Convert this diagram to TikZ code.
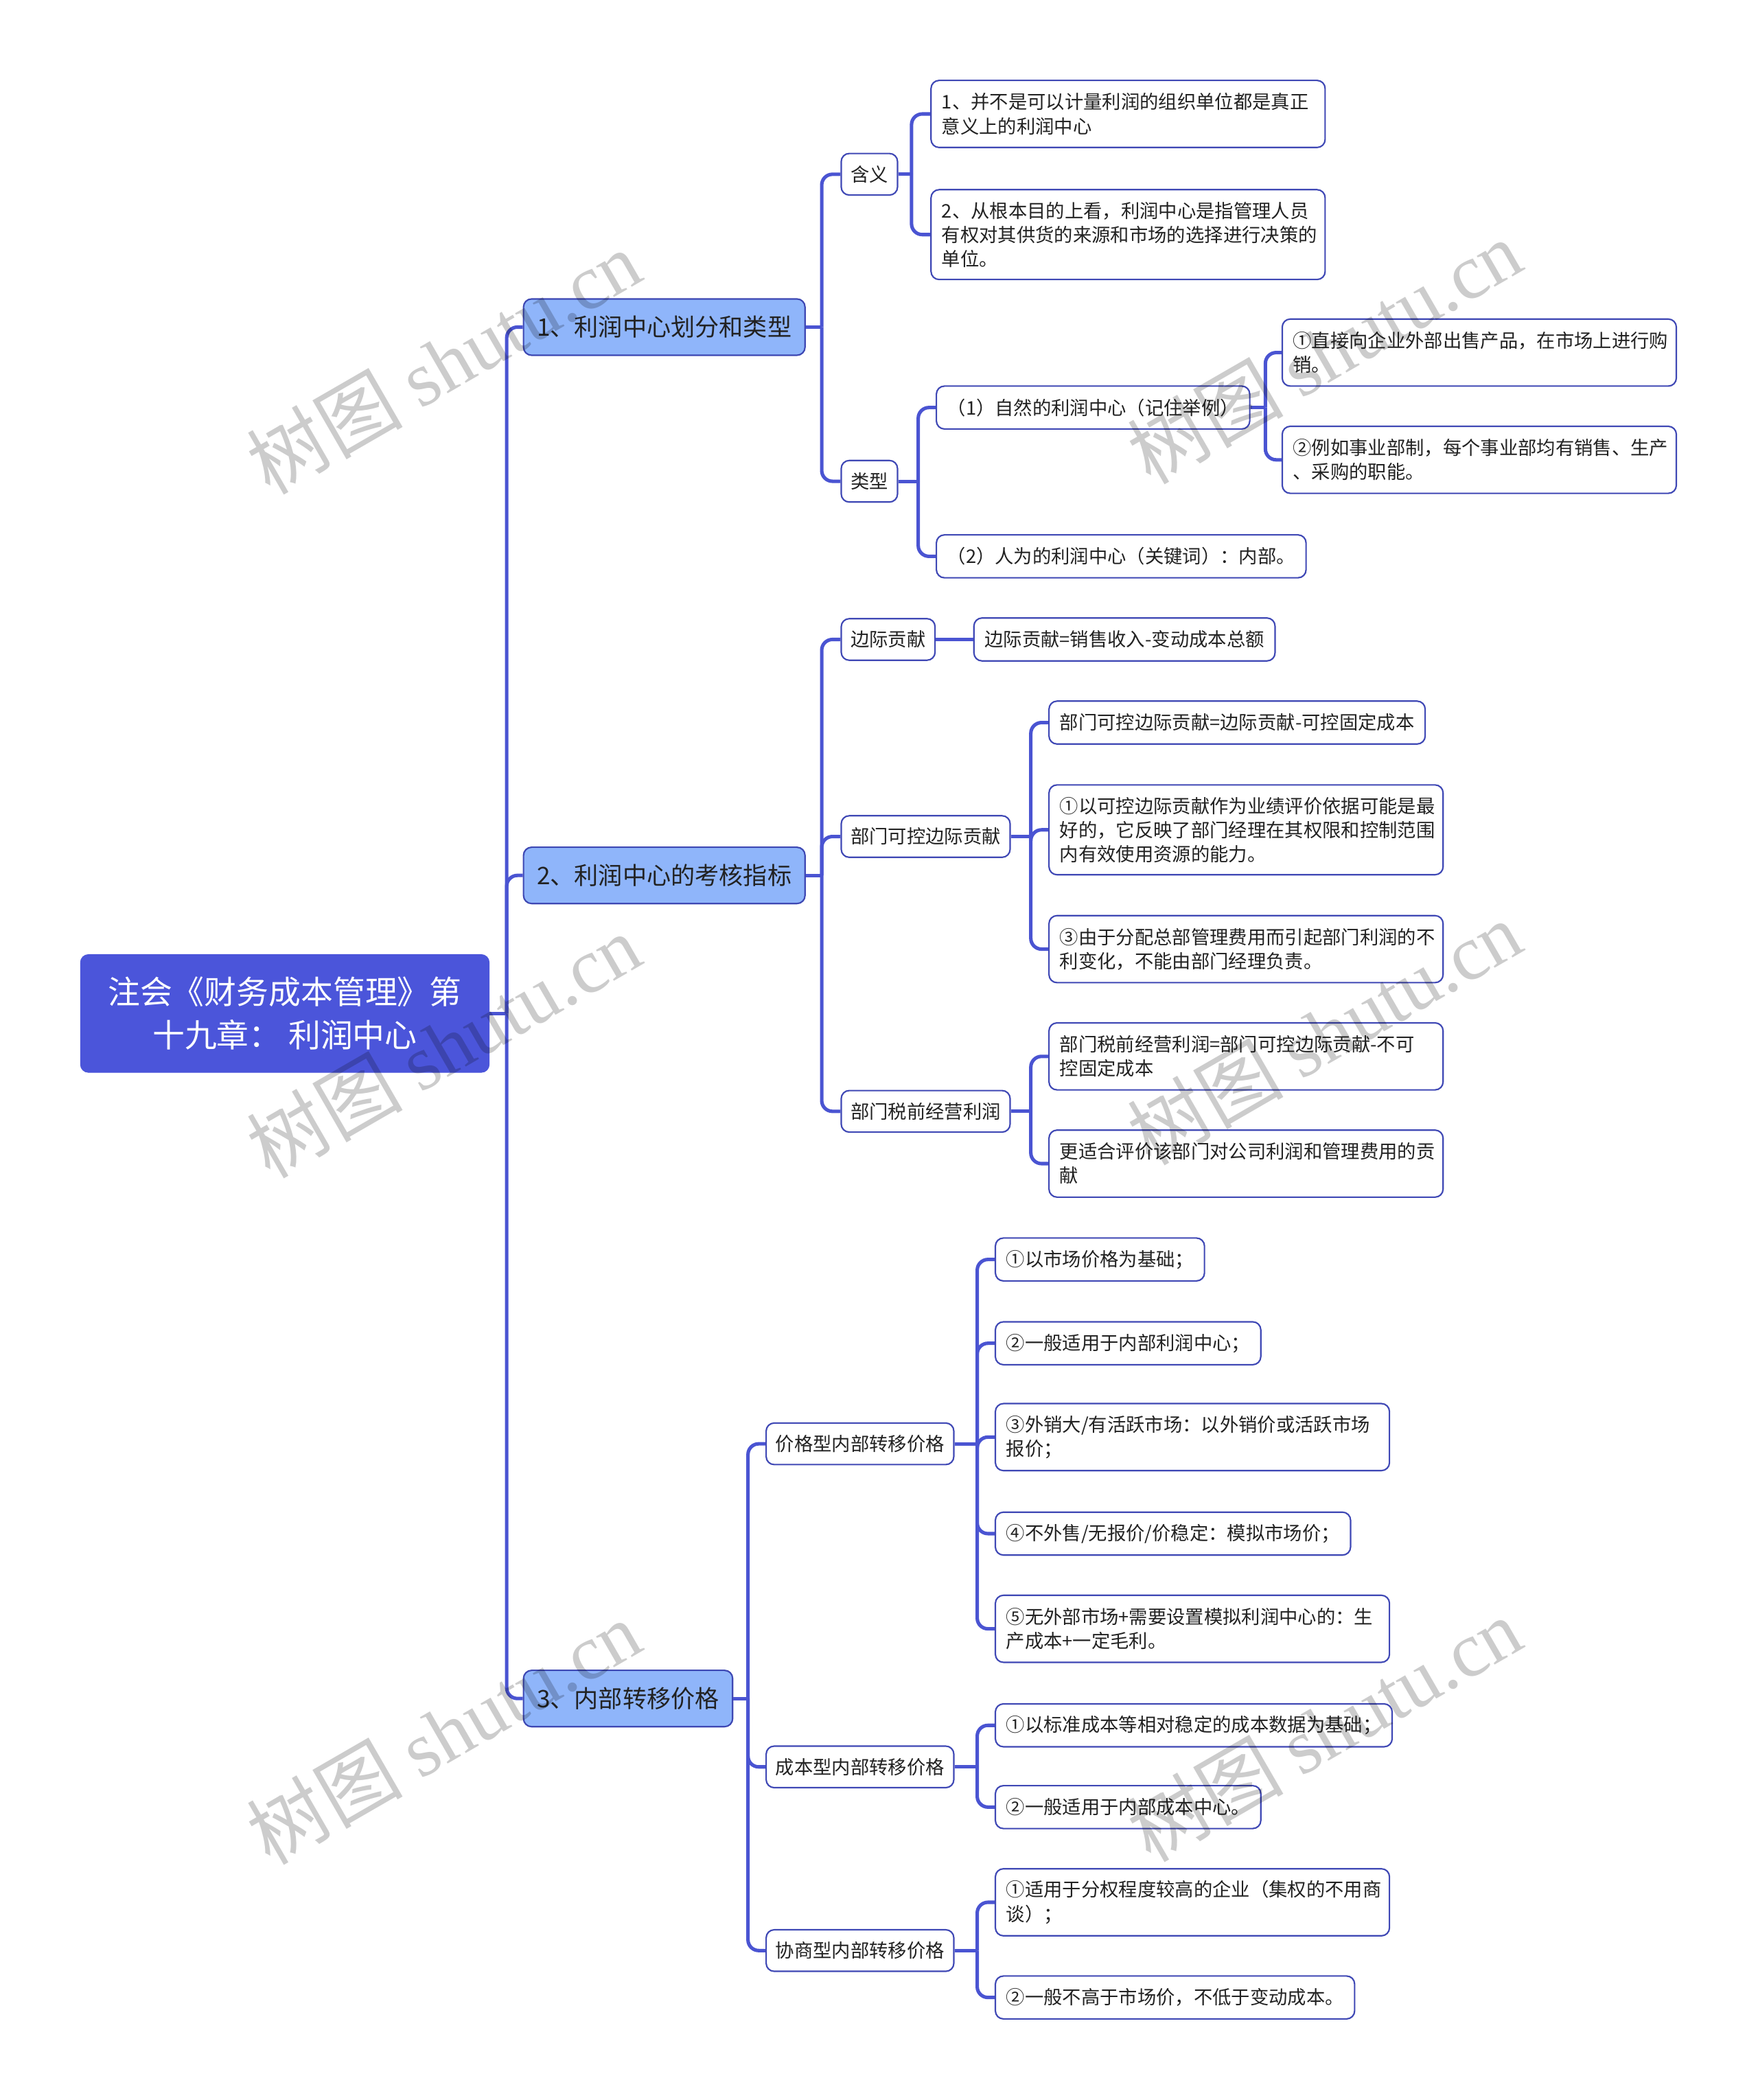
\documentclass[tikz,border=0pt]{standalone}
\usepackage{fontspec}
\setmainfont{Noto Sans CJK SC}
\newfontfamily\wmcjk{Noto Sans CJK SC}
\newfontfamily\wmlat{Liberation Serif}
\definecolor{rootblue}{HTML}{4B55DA}
\definecolor{lonefill}{HTML}{8FB5FA}
\definecolor{loneborder}{HTML}{3D47B3}
\definecolor{leafborder}{HTML}{3F48B5}
\definecolor{lineblue}{HTML}{4A54D2}
\definecolor{txt}{HTML}{222222}
\tikzset{
  conn/.style={draw=lineblue, line width=2.6pt, rounded corners=8pt},
  stub/.style={draw=lineblue, line width=2.6pt},
  rootbox/.style={fill=rootblue, draw=rootblue, rounded corners=6pt, text=white,
    font=\fontsize{24}{32}\selectfont, align=center, minimum width=305pt,
    minimum height=88pt, inner sep=0pt},
  lonebox/.style={fill=lonefill, draw=loneborder, line width=1.1pt, rounded corners=6pt,
    text=txt, font=\fontsize{18}{22}\selectfont, inner xsep=10pt, inner ysep=0pt,
    minimum height=42pt, anchor=west},
  ltwobox/.style={draw=leafborder, fill=white, line width=1.1pt, rounded corners=6pt,
    text=txt, font=\fontsize{14}{18}\selectfont, inner xsep=7pt, inner ysep=0pt,
    minimum height=31pt, anchor=west},
  leaf/.style={ltwobox, inner xsep=8pt, minimum height=32pt},
  leafw/.style={leaf, text width=278pt, align=left},
  twol/.style={minimum height=50pt},
  threel/.style={minimum height=67pt},
  wmark/.style={rotate=30, text=black, text opacity=0.2, font=\fontsize{58}{58}\selectfont, inner sep=0pt}
}
\begin{document}
\begin{tikzpicture}[x=1pt,y=-1pt]
\useasboundingbox (0,0) rectangle (1311,1566.5);
\fill[white] (0,0) rectangle (1311,1566.5);

% root and level 1
\node[rootbox] (root) at (212.5,756) {注会《财务成本管理》第\\十九章： 利润中心};
\node[lonebox] (a) at (390,244) {1、利润中心划分和类型};
\node[lonebox] (b) at (390,653) {2、利润中心的考核指标};
\node[lonebox] (c) at (390,1267) {3、内部转移价格};

% branch a
\node[ltwobox] (a1) at (627,130) {含义};
\node[ltwobox] (a2) at (627,359) {类型};
\node[leafw,twol] (a1x) at (694,85) {1、并不是可以计量利润的组织单位都是真正\\意义上的利润中心};
\node[leafw,threel] (a1y) at (694,175) {2、从根本目的上看，利润中心是指管理人员\\有权对其供货的来源和市场的选择进行决策的\\单位。};
\node[leaf] (a2x) at (698,304) {（1）自然的利润中心（记住举例）};
\node[leaf] (a2y) at (698,415) {（2）人为的利润中心（关键词）：内部。};
\node[leafw,twol] (a2xa) at (956,263) {①直接向企业外部出售产品，在市场上进行购\\销。};
\node[leafw,twol] (a2xb) at (956,343) {②例如事业部制，每个事业部均有销售、生产\\、采购的职能。};

% branch b
\node[ltwobox] (b1) at (627,477) {边际贡献};
\node[leaf] (b1x) at (726,477) {边际贡献=销售收入-变动成本总额};
\node[ltwobox] (b2) at (627,624) {部门可控边际贡献};
\node[leaf] (b2x) at (782,539) {部门可控边际贡献=边际贡献-可控固定成本};
\node[leafw,threel] (b2y) at (782,619) {①以可控边际贡献作为业绩评价依据可能是最\\好的，它反映了部门经理在其权限和控制范围\\内有效使用资源的能力。};
\node[leafw,twol] (b2z) at (782,708) {③由于分配总部管理费用而引起部门利润的不\\利变化，不能由部门经理负责。};
\node[ltwobox] (b3) at (627,829) {部门税前经营利润};
\node[leafw,twol] (b3x) at (782,788) {部门税前经营利润=部门可控边际贡献-不可\\控固定成本};
\node[leafw,twol] (b3y) at (782,868) {更适合评价该部门对公司利润和管理费用的贡\\献};

% branch c
\node[ltwobox] (c1) at (571,1077) {价格型内部转移价格};
\node[leaf] (c1a) at (742,939.5) {①以市场价格为基础；};
\node[leaf] (c1b) at (742,1002) {②一般适用于内部利润中心；};
\node[leafw,twol] (c1c) at (742,1072) {③外销大/有活跃市场：以外销价或活跃市场\\报价；};
\node[leaf] (c1d) at (742,1144) {④不外售/无报价/价稳定：模拟市场价；};
\node[leafw,twol] (c1e) at (742,1215) {⑤无外部市场+需要设置模拟利润中心的：生\\产成本+一定毛利。};
\node[ltwobox] (c2) at (571,1318) {成本型内部转移价格};
\node[leaf] (c2a) at (742,1287) {①以标准成本等相对稳定的成本数据为基础；};
\node[leaf] (c2b) at (742,1348) {②一般适用于内部成本中心。};
\node[ltwobox] (c3) at (571,1455) {协商型内部转移价格};
\node[leafw,twol] (c3a) at (742,1419) {①适用于分权程度较高的企业（集权的不用商\\谈）；};
\node[leaf] (c3b) at (742,1490) {②一般不高于市场价，不低于变动成本。};

% spine junctions
\coordinate (sroot) at (378,756);
\coordinate (sa) at (613,244);
\coordinate (sb) at (613,653);
\coordinate (sc) at (558,1267);
\coordinate (sa1) at (680,130);
\coordinate (sa2) at (685,359);
\coordinate (sa2x) at (944,304);
\coordinate (sb2) at (769,624);
\coordinate (sb3) at (769,829);
\coordinate (sc1) at (729,1077);
\coordinate (sc2) at (729,1318);
\coordinate (sc3) at (729,1455);

% connectors
\draw[stub] (root.east) -- (sroot);
\foreach \k in {a,b,c} \draw[conn] (sroot) |- (\k.west);
\draw[stub] (a.east) -- (sa);
\foreach \k in {a1,a2} \draw[conn] (sa) |- (\k.west);
\draw[stub] (a1.east) -- (sa1);
\foreach \k in {a1x,a1y} \draw[conn] (sa1) |- (\k.west);
\draw[stub] (a2.east) -- (sa2);
\foreach \k in {a2x,a2y} \draw[conn] (sa2) |- (\k.west);
\draw[stub] (a2x.east) -- (sa2x);
\foreach \k in {a2xa,a2xb} \draw[conn] (sa2x) |- (\k.west);

\draw[stub] (b.east) -- (sb);
\foreach \k in {b1,b2,b3} \draw[conn] (sb) |- (\k.west);
\draw[stub] (b1.east) -- (b1x.west);
\draw[stub] (b2.east) -- (sb2);
\foreach \k in {b2x,b2y,b2z} \draw[conn] (sb2) |- (\k.west);
\draw[stub] (b3.east) -- (sb3);
\foreach \k in {b3x,b3y} \draw[conn] (sb3) |- (\k.west);

\draw[stub] (c.east) -- (sc);
\foreach \k in {c1,c2,c3} \draw[conn] (sc) |- (\k.west);
\draw[stub] (c1.east) -- (sc1);
\foreach \k in {c1a,c1b,c1c,c1d,c1e} \draw[conn] (sc1) |- (\k.west);
\draw[stub] (c2.east) -- (sc2);
\foreach \k in {c2a,c2b} \draw[conn] (sc2) |- (\k.west);
\draw[stub] (c3.east) -- (sc3);
\foreach \k in {c3a,c3b} \draw[conn] (sc3) |- (\k.west);

% watermarks
\node[wmark] (wm1) at (331,270) {{\wmcjk 树图} {\wmlat shutu.cn}};
\node[wmark] (wm2) at (988,262) {{\wmcjk 树图} {\wmlat shutu.cn}};
\node[wmark] (wm3) at (331,780) {{\wmcjk 树图} {\wmlat shutu.cn}};
\node[wmark] (wm4) at (988,770) {{\wmcjk 树图} {\wmlat shutu.cn}};
\node[wmark] (wm5) at (331,1292) {{\wmcjk 树图} {\wmlat shutu.cn}};
\node[wmark] (wm6) at (988,1290) {{\wmcjk 树图} {\wmlat shutu.cn}};
\end{tikzpicture}
\end{document}
